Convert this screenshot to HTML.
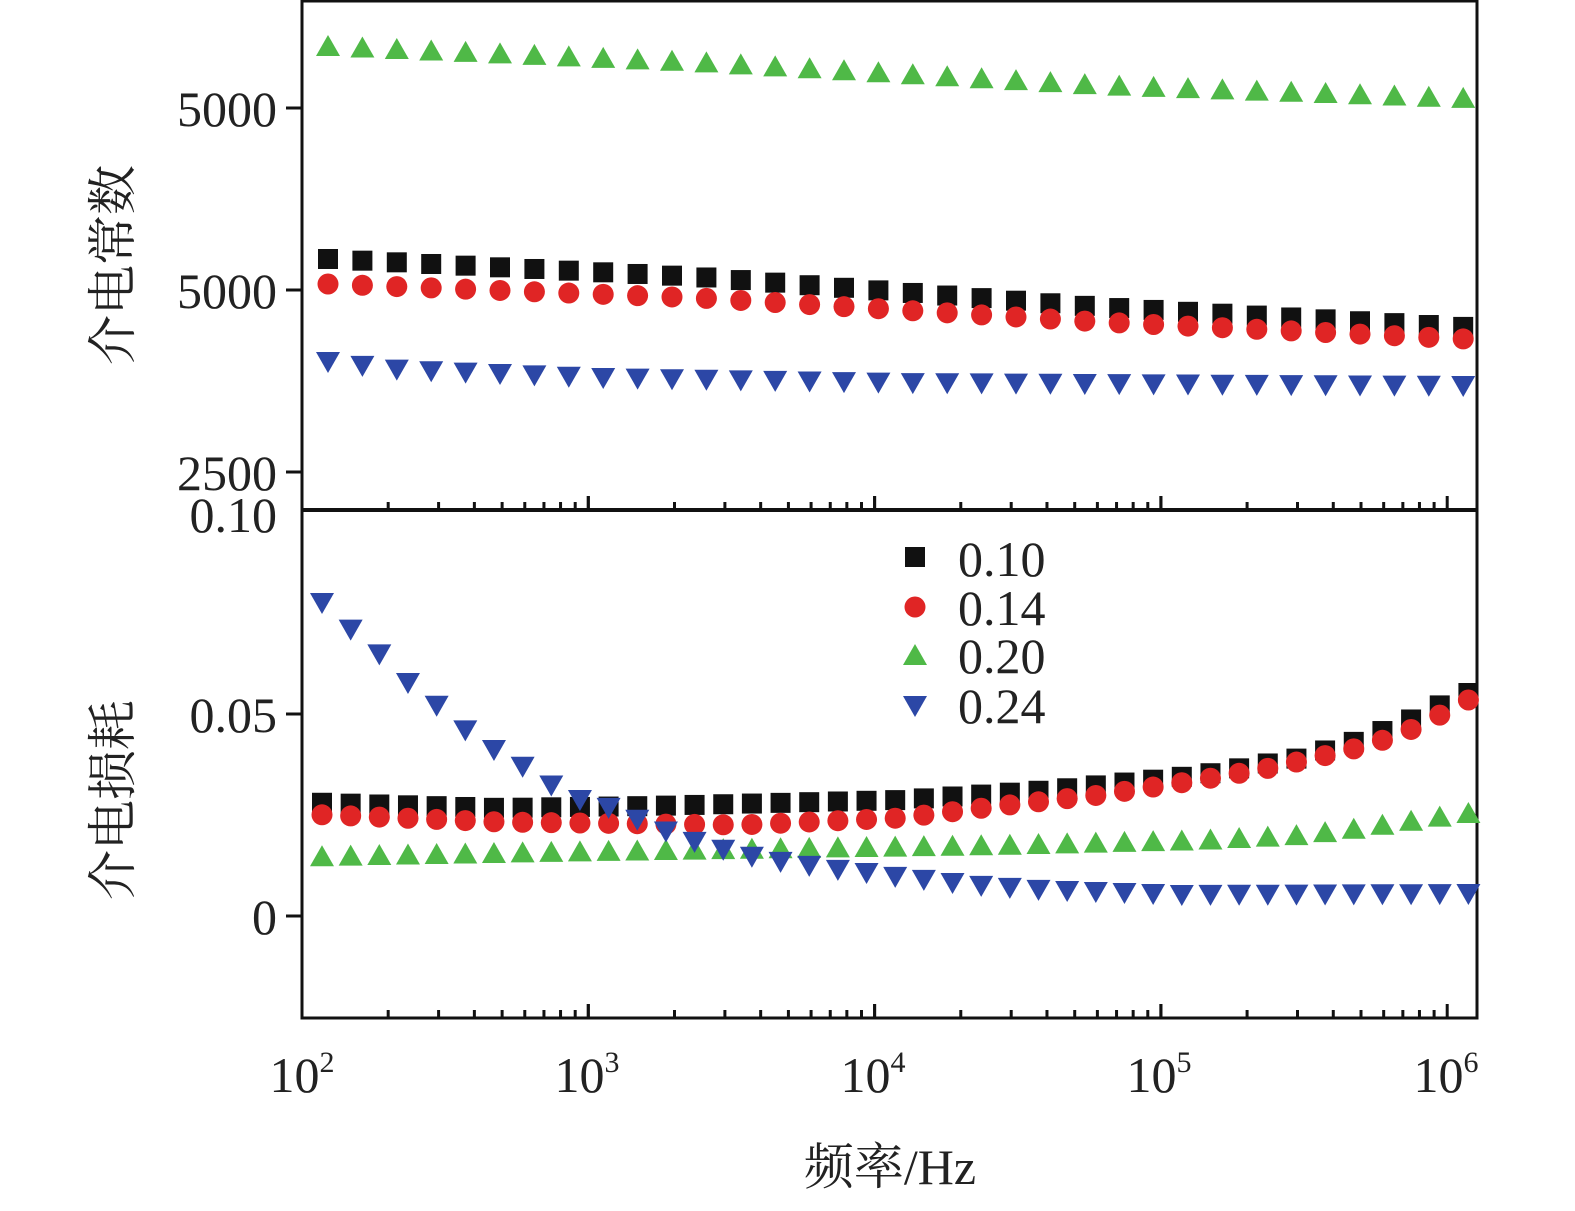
<!DOCTYPE html>
<html><head><meta charset="utf-8"><style>
html,body{margin:0;padding:0;background:#fff;}
svg text{font-family:"Liberation Serif","Noto Serif CJK SC",serif;fill:#222;}
</style></head><body>
<svg id="s" width="1575" height="1206" viewBox="0 0 1575 1206" xmlns="http://www.w3.org/2000/svg">
<g stroke="#111" stroke-width="3" fill="none">
<rect x="302" y="1" width="1175" height="1017"/>
<line x1="302" y1="510" x2="1477" y2="510" stroke-width="4"/>
<line x1="286" y1="108" x2="302" y2="108"/>
<line x1="286" y1="290" x2="302" y2="290"/>
<line x1="286" y1="472" x2="302" y2="472"/>
<line x1="286" y1="714" x2="302" y2="714"/>
<line x1="286" y1="916" x2="302" y2="916"/>
</g>
<g id="ticks" stroke="#111" stroke-width="3"></g>
<g font-size="50">
<text x="277" y="126" text-anchor="end">5000</text>
<text x="277" y="308" text-anchor="end">5000</text>
<text x="277" y="490" text-anchor="end">2500</text>
<text x="277" y="532" text-anchor="end">0.10</text>
<text x="277" y="732" text-anchor="end">0.05</text>
<text x="277" y="934" text-anchor="end">0</text>
<text x="302" y="1092" text-anchor="middle">10<tspan font-size="30" dy="-20">2</tspan></text>
<text x="587" y="1092" text-anchor="middle">10<tspan font-size="30" dy="-20">3</tspan></text>
<text x="873" y="1092" text-anchor="middle">10<tspan font-size="30" dy="-20">4</tspan></text>
<text x="1159" y="1092" text-anchor="middle">10<tspan font-size="30" dy="-20">5</tspan></text>
<text x="1446" y="1092" text-anchor="middle">10<tspan font-size="30" dy="-20">6</tspan></text>
<text x="890" y="1184" text-anchor="middle">频率/Hz</text>
<text transform="translate(130,265) rotate(-90)" text-anchor="middle">介电常数</text>
<text transform="translate(130,800) rotate(-90)" text-anchor="middle">介电损耗</text>
<text x="958" y="576">0.10</text>
<text x="958" y="625">0.14</text>
<text x="958" y="673">0.20</text>
<text x="958" y="723">0.24</text>
</g>
<g id="pts"></g>
</svg>
<script>
(function(){
var ns="http://www.w3.org/2000/svg",P=document.getElementById("pts"),T=document.getElementById("ticks");
function el(t,a,p){var e=document.createElementNS(ns,t);for(var k in a)e.setAttribute(k,a[k]);(p||P).appendChild(e);}
var C={k:"#111",r:"#e02525",g:"#4fb947",b:"#2c47a6"};
function mk(type,x,y){
 if(type=="k")el("rect",{x:x-10,y:y-10,width:20,height:20,fill:C.k});
 else if(type=="r")el("circle",{cx:x,cy:y,r:10.5,fill:C.r});
 else if(type=="g")el("polygon",{points:(x-12)+","+(y+10)+" "+(x+12)+","+(y+10)+" "+x+","+(y-11),fill:C.g});
 else el("polygon",{points:(x-12)+","+(y-10)+" "+(x+12)+","+(y-10)+" "+x+","+(y+11),fill:C.b});
}
function interp(pts,x){for(var i=0;i<pts.length-1;i++){if(x<=pts[i+1][0]){var a=pts[i],b=pts[i+1];return a[1]+(b[1]-a[1])*(x-a[0])/(b[0]-a[0]);}}return pts[pts.length-1][1];}
var tp={g:[[302,48],[328,46],[700,62],[1100,85],[1465,98]],
 k:[[302,257],[328,259],[700,277],[1100,307],[1465,327]],
 r:[[302,282],[328,284],[700,298],[1100,322],[1465,339]],
 b:[[302,356],[328,362],[400,370],[600,378],[900,383],[1465,386]]};
["g","k","r","b"].forEach(function(s){for(var x=328;x<1470;x+=34.4)mk(s,x,interp(tp[s],x));});
var bt={g:[[302,857],[328,856],[600,851],[1000,845],[1200,840],[1300,835],[1360,828],[1465,813]],
 k:[[302,802],[328,803],[500,808],[650,806],[900,800],[1050,790],[1200,775],[1300,758],[1360,740],[1410,720],[1465,693]],
 r:[[302,814],[328,815],[500,822],[740,825],[900,818],[1000,806],[1100,795],[1200,780],[1270,768],[1350,750],[1400,735],[1440,715],[1465,700]],
 b:[[302,570],[322,603],[351,630],[380,655],[408,683],[437,706],[466,731],[494,750],[523,767],[552,786],[580,800],[609,808],[638,820],[667,832],[695,842],[724,850],[753,857],[781,862],[810,866],[839,870],[867,873],[896,877],[925,880],[953,883],[982,886],[1011,888],[1040,890],[1068,891],[1126,893],[1183,895],[1465,894]]};
["g","k","r","b"].forEach(function(s){for(var x=322;x<1470;x+=28.66)mk(s,x,interp(bt[s],x));});
mk("k",915,557);mk("r",915,607);mk("g",915,655);mk("b",915,706);
for(var d=0;d<4;d++){var x0=302+d*286.3;for(var m=1;m<=10;m++){var x=x0+286.3*Math.log10(m);var L=(m==1||m==10)?14:8;
 el("line",{x1:x,y1:1018,x2:x,y2:1018-L},T);el("line",{x1:x,y1:510,x2:x,y2:510-L},T);}}
})();
</script>
</body></html>
